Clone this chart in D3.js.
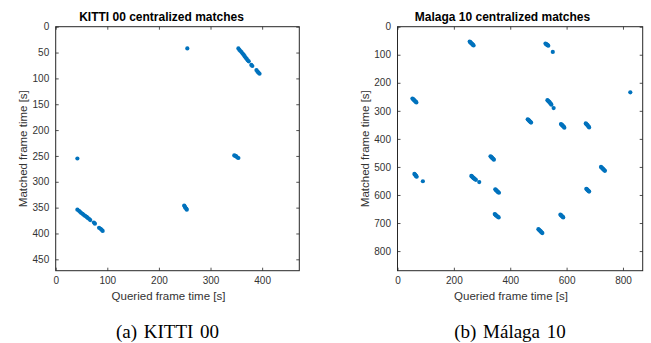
<!DOCTYPE html>
<html>
<head>
<meta charset="utf-8">
<script src="https://cdn.jsdelivr.net/npm/d3@7"></script>
<style>
  body { margin: 0; background: #fff; }
  svg { display: block; }
  .tick text { font-family: "Liberation Sans", Arial, sans-serif; font-size: 10px; fill: #333; }
</style>
</head>
<body>
<svg id="chart" width="651" height="343"></svg>
<script>
// KITTI 00: [queried time, matched time]
const kittiPoints = [
  [354, 42], [356, 45], [358, 47], [360, 49], [362, 52], [364, 54], [366, 57], [368, 60],
  [370, 62], [372, 65], [374, 67], [379, 74], [381, 76], [389, 84], [391, 87], [393, 89], [395, 91],
  [255, 42],
  [346, 249], [348, 250], [350, 251], [352, 253], [354, 254],
  [42, 354], [45, 356], [47, 358], [49, 360], [52, 362], [54, 364], [57, 366], [60, 368],
  [62, 370], [65, 372], [67, 374], [74, 379], [76, 381], [84, 389], [87, 391], [89, 393], [91, 395],
  [42, 255],
  [249, 346], [250, 348], [251, 350], [253, 352], [254, 354]
];

// Malaga 10: [queried time, matched time]
const malagaPoints = [
  [256, 53], [258, 55], [260, 57], [262, 59], [264, 61], [266, 63], [268, 65], [270, 67],
  [53, 256], [55, 258], [57, 260], [59, 262], [61, 264], [63, 266], [65, 268], [67, 270],
  [525, 60], [527, 62], [529, 63], [531, 65], [533, 66], [535, 68],
  [60, 525], [62, 527], [63, 529], [65, 531], [66, 533], [68, 535],
  [551, 90], [90, 551],
  [532, 262], [534, 264], [536, 266], [538, 268], [540, 270], [542, 273], [544, 275], [546, 278],
  [262, 532], [264, 534], [266, 536], [268, 538], [270, 540], [273, 542], [275, 544], [278, 546],
  [554, 290], [290, 554],
  [462, 330], [464, 332], [466, 334], [468, 336], [470, 338], [472, 340], [474, 342],
  [330, 462], [332, 464], [334, 466], [336, 468], [338, 470], [340, 472], [342, 474],
  [580, 347], [582, 349], [584, 351], [586, 353], [588, 355], [590, 357], [592, 360],
  [347, 580], [349, 582], [351, 584], [353, 586], [355, 588], [357, 590], [360, 592],
  [668, 345], [670, 347], [672, 349], [674, 351], [676, 354], [678, 356], [680, 359],
  [345, 668], [347, 670], [349, 672], [351, 674], [354, 676], [356, 678], [359, 680],
  [722, 500], [724, 502], [726, 504], [728, 506], [730, 508], [732, 510], [734, 512], [736, 514],
  [500, 722], [502, 724], [504, 726], [506, 728], [508, 730], [510, 732], [512, 734], [514, 736],
  [670, 578], [672, 580], [674, 582], [676, 584], [678, 586], [680, 588],
  [578, 670], [580, 672], [582, 674], [584, 676], [586, 678], [588, 680],
  [826, 234]
];

const kittiTicks = { x: [0, 100, 200, 300, 400], y: [0, 50, 100, 150, 200, 250, 300, 350, 400, 450] };
const malagaTicks = { x: [0, 200, 400, 600, 800], y: [0, 100, 200, 300, 400, 500, 600, 700, 800] };

const titles = ['KITTI 00 centralized matches', 'Malaga 10 centralized matches'];
const captions = ['(a) KITTI 00', '(b) M\u00e1laga 10'];
const xLabel = 'Queried frame time [s]';
const yLabel = 'Matched frame time [s]';

const svg = d3.select('#chart');
const axisColor = '#262626';
const dotColor = '#0072BD';
const sans = '"Liberation Sans", Arial, sans-serif';

function drawPanel(cfg) {
  const x = d3.scaleLinear().domain([0, cfg.max]).range([cfg.left, cfg.right]);
  const y = d3.scaleLinear().domain([0, cfg.max]).range([cfg.top, cfg.bottom]);
  const g = svg.append('g');

  g.append('g')
    .attr('transform', 'translate(0,' + cfg.bottom + ')')
    .call(d3.axisBottom(x).tickValues(cfg.ticks.x).tickSizeInner(-3).tickSizeOuter(0).tickPadding(6.5));
  g.append('g')
    .attr('transform', 'translate(0,' + cfg.top + ')')
    .call(d3.axisTop(x).tickValues(cfg.ticks.x).tickSizeInner(-3).tickSizeOuter(0).tickFormat(''));
  g.append('g')
    .attr('transform', 'translate(' + cfg.left + ',0)')
    .call(d3.axisLeft(y).tickValues(cfg.ticks.y).tickSizeInner(-3).tickSizeOuter(0).tickPadding(6.5));
  g.append('g')
    .attr('transform', 'translate(' + cfg.right + ',0)')
    .call(d3.axisRight(y).tickValues(cfg.ticks.y).tickSizeInner(-3).tickSizeOuter(0).tickFormat(''));

  g.selectAll('.domain').remove();
  g.selectAll('.tick line').attr('stroke', axisColor).attr('stroke-width', 0.8);

  g.append('rect')
    .attr('x', cfg.left).attr('y', cfg.top)
    .attr('width', cfg.right - cfg.left).attr('height', cfg.bottom - cfg.top)
    .attr('fill', 'none').attr('stroke', axisColor).attr('stroke-width', 1);

  g.selectAll('circle.pt')
    .data(cfg.points)
    .enter().append('circle')
    .attr('class', 'pt')
    .attr('cx', d => x(d[0]))
    .attr('cy', d => y(d[1]))
    .attr('r', 2.1)
    .attr('fill', dotColor);

  g.append('text')
    .attr('x', cfg.titleX).attr('y', 20.5)
    .attr('text-anchor', 'middle')
    .style('font-family', sans)
    .style('font-weight', 'bold').style('font-size', '12px')
    .attr('fill', '#000')
    .text(cfg.title);

  g.append('text')
    .attr('x', cfg.xLabelX).attr('y', 300)
    .attr('text-anchor', 'middle')
    .style('font-family', sans)
    .style('font-size', '11.5px')
    .attr('fill', '#333')
    .text(xLabel);

  g.append('text')
    .attr('transform', 'translate(' + cfg.yLabelX + ',' + ((cfg.top + cfg.bottom) / 2) + ') rotate(-90)')
    .attr('text-anchor', 'middle')
    .style('font-family', sans)
    .style('font-size', '11.5px')
    .attr('fill', '#333')
    .text(yLabel);

  g.append('text')
    .attr('x', cfg.captionX).attr('y', 338)
    .attr('text-anchor', 'middle')
    .style('font-family', '"Liberation Serif", "Times New Roman", serif')
    .style('font-size', '19px')
    .style('word-spacing', '2px')
    .attr('fill', '#000')
    .text(cfg.caption);
}

drawPanel({
  points: kittiPoints, ticks: kittiTicks, max: 472,
  left: 55.7, right: 299.3, top: 26.7, bottom: 270.7,
  title: titles[0], titleX: 161.5, xLabelX: 168.5, yLabelX: 27, captionX: 167.5, caption: captions[0]
});

drawPanel({
  points: malagaPoints, ticks: malagaTicks, max: 870,
  left: 397.5, right: 642.7, top: 26.7, bottom: 270.7,
  title: titles[1], titleX: 502.5, xLabelX: 511, yLabelX: 369, captionX: 510, caption: captions[1]
});
</script>
</body>
</html>
